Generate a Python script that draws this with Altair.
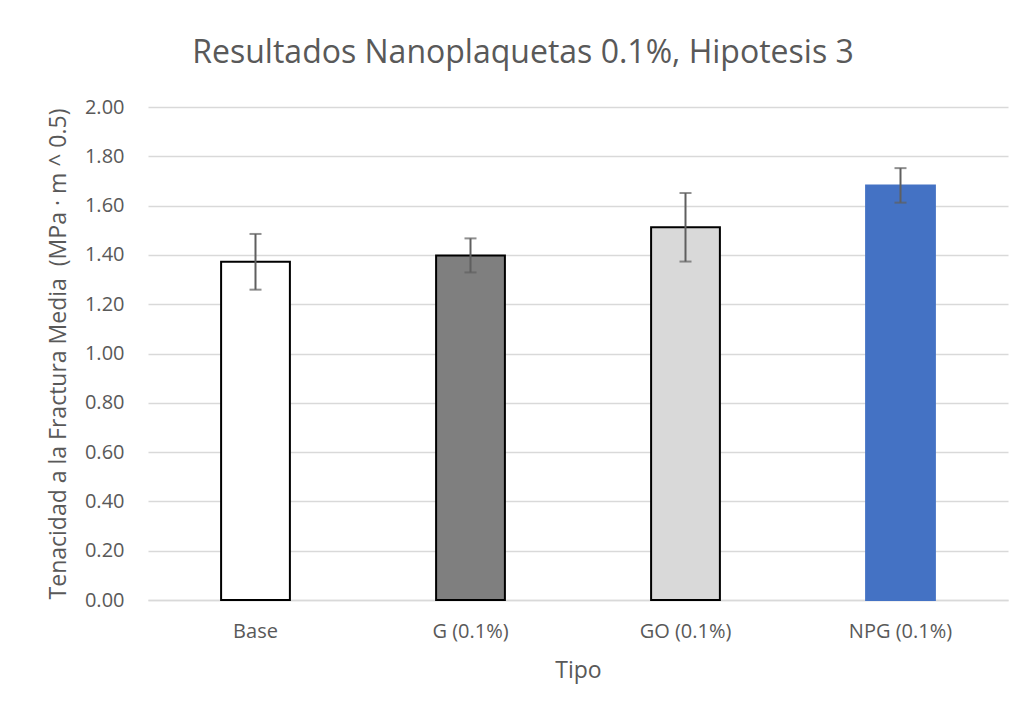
import altair as alt
import pandas as pd

categories = ["Base", "G (0.1%)", "GO (0.1%)", "NPG (0.1%)"]
means = [1.372, 1.398, 1.512, 1.682]
errors = [0.113, 0.069, 0.139, 0.070]
fills = ["#ffffff", "#7f7f7f", "#d9d9d9", "#4472c4"]
strokes = ["#000000", "#000000", "#000000", "#4472c4"]
ytick_values = [0, 0.2, 0.4, 0.6, 0.8, 1.0, 1.2, 1.4, 1.6, 1.8, 2.0]

df = pd.DataFrame({"Tipo": categories, "Media": means, "Err": errors})
df["lo"] = df["Media"] - df["Err"]
df["hi"] = df["Media"] + df["Err"]

FONT = "Open Sans"
XT = "Tipo"
YT = "Tenacidad a la Fractura Media\u00a0\u00a0(MPa · m ^ 0.5)"
xscale = alt.Scale(paddingInner=0.68, paddingOuter=0.34)
yscale = alt.Scale(domain=[0, 2])

def xenc():
    return alt.X("Tipo:N", sort=categories, title=XT, scale=xscale)

def yenc(field):
    return alt.Y(field, title=YT, scale=yscale)

bars = alt.Chart(df).mark_bar(strokeWidth=2).encode(
    x=xenc(),
    y=yenc("Media:Q"),
    fill=alt.Fill("Tipo:N", sort=categories,
                  scale=alt.Scale(domain=categories, range=fills), legend=None),
    stroke=alt.Stroke("Tipo:N", sort=categories,
                      scale=alt.Scale(domain=categories, range=strokes), legend=None),
)

rules = alt.Chart(df).mark_rule(color="#5f5f5f", strokeWidth=2).encode(
    x=xenc(), y=yenc("lo:Q"), y2="hi:Q")
cap_hi = alt.Chart(df).mark_tick(color="#5f5f5f", thickness=2, size=12).encode(
    x=xenc(), y=yenc("hi:Q"))
cap_lo = alt.Chart(df).mark_tick(color="#5f5f5f", thickness=2, size=12).encode(
    x=xenc(), y=yenc("lo:Q"))

chart = alt.layer(bars, rules, cap_hi, cap_lo).properties(
    width=860, height=493,
    background="white",
    title=alt.Title("Resultados Nanoplaquetas 0.1%, Hipotesis 3", fontSize=32,
                    color="#595959", fontWeight="normal", font=FONT, offset=27,
                    anchor="middle", dx=-55),
    autosize=alt.AutoSizeParams(type="none"),
    padding={"left": 140, "top": 99, "right": 8, "bottom": 100},
).configure_view(stroke=None).configure_axis(
    labelFont=FONT, titleFont=FONT, labelColor="#595959", titleColor="#595959",
    titleFontWeight="normal", ticks=False, labelFontSize=20,
).configure_axisX(
    labelAngle=0, labelPadding=21, titleFontSize=23, titlePadding=18,
    domainColor="#d9d9d9", domainWidth=1.5, grid=False,
).configure_axisY(
    values=ytick_values, format=".2f", labelPadding=24, titleFontSize=23,
    titlePadding=14, domain=False, gridColor="#d9d9d9", gridWidth=1.5,
)

chart.save("out.html", embed_options={"renderer": "svg", "actions": False})
